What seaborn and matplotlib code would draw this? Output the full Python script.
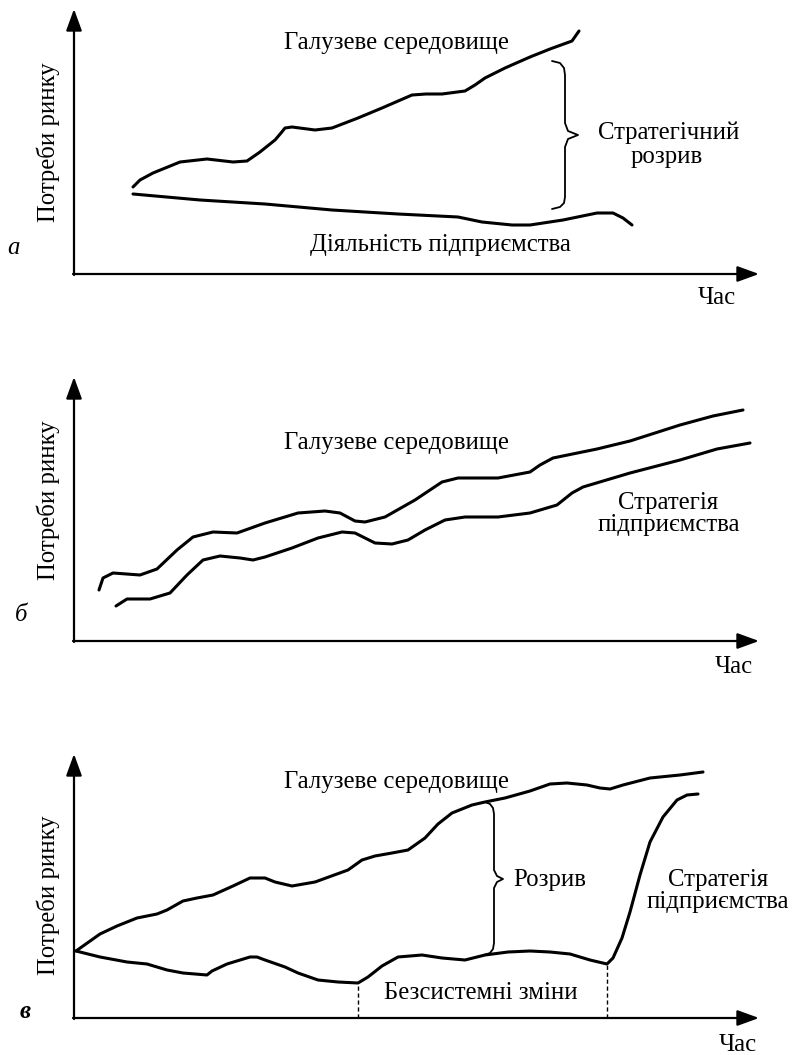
import matplotlib
matplotlib.use("Agg")
import matplotlib.pyplot as plt
import seaborn as sns

# =========================
# DATA (units relative to each panel's origin)
# =========================

# panel a
a_env_x = [59, 66, 79, 106, 133, 159, 173, 186, 201, 207, 211, 218, 241, 258, 284, 308, 338, 352, 368, 391, 401, 411, 431, 456, 476, 498, 505]
a_env_y = [87, 94, 101, 112, 115, 112, 113, 122, 134, 141, 146, 147, 144, 146, 156, 166, 179, 180, 180, 183, 189, 196, 206, 217, 225, 233, 243]
a_firm_x = [59, 126, 191, 258, 324, 384, 408, 438, 456, 489, 523, 539, 549, 558]
a_firm_y = [80, 74, 70, 64, 60, 57, 52, 49, 49, 54, 61, 61, 56, 49]
a_brace_x = [478, 486, 490, 491, 491, 494, 504, 494, 491, 491, 490, 486, 478]
a_brace_y = [213, 211, 206, 199, 151, 143, 139, 135, 127, 77, 71, 67, 65]

# panel b
b_env_x = [25, 29, 39, 66, 83, 103, 119, 139, 163, 191, 224, 251, 266, 281, 291, 311, 341, 368, 384,
           424, 456, 466, 479, 523, 556, 606, 639, 669]
b_env_y = [51, 63, 68, 66, 72, 91, 104, 109, 108, 118, 128, 130, 128, 120, 119, 124, 141, 159, 163,
           163, 169, 176, 183, 192, 200, 216, 225, 231]
b_strat_x = [42, 53, 76, 96, 113, 129, 146, 166, 179, 191, 218, 244, 268, 281, 301, 318, 334, 351, 371,
             391, 424, 456, 483, 498, 509, 556, 606, 643, 676]
b_strat_y = [35, 42, 42, 48, 66, 81, 85, 83, 81, 84, 93, 103, 109, 108, 98, 97, 101, 111, 121,
             124, 124, 128, 136, 148, 154, 168, 181, 192, 198]

# panel c
c_env_x = [2, 26, 43, 63, 83, 93, 109, 123, 139, 159, 176, 191, 201, 218, 241, 274, 288, 301, 318, 334,
           351, 364, 378, 398, 411, 431, 456, 476, 493, 513, 526, 536, 549, 576, 606, 629]
c_env_y = [67, 84, 92, 100, 104, 108, 117, 120, 123, 132, 140, 140, 136, 132, 136, 148, 158, 162, 165, 168,
           180, 194, 205, 213, 216, 220, 227, 234, 235, 233, 230, 229, 233, 240, 243, 246]
c_strat_x = [2, 26, 53, 73, 93, 109, 133, 138, 153, 176, 183, 191, 211, 224, 244, 264, 284, 294, 308, 324,
             348, 368, 391, 411, 434, 456, 476, 496, 516, 533, 539, 548, 556, 566, 576, 589, 603, 613, 624]
c_strat_y = [67, 61, 56, 54, 48, 45, 43, 47, 54, 61, 61, 58, 51, 45, 38, 36, 35, 41, 52, 61,
             63, 60, 58, 63, 66, 67, 66, 64, 58, 54, 60, 80, 106, 143, 176, 201, 218, 223, 224]
c_brace_x = [411, 416, 419, 420, 420, 423, 429, 423, 420, 420, 419, 416, 410]
c_brace_y = [216, 214, 210, 204, 148, 142, 139, 136, 130, 75, 69, 65, 63]
c_drop_x = [284, 533]
c_drop_y = [35, 54]

# panel frames: (origin x px, origin y px, band top px, band bottom px)
panels = [(74, 274, 0, 330), (74, 641, 340, 690), (74, 1018, 715, 1055)]

W, H = 794, 1055

sns.set_theme(style="white")
plt.rcParams["font.family"] = ["Liberation Serif", "DejaVu Serif"]
plt.rcParams["text.color"] = "black"

fig = plt.figure(figsize=(W / 100, H / 100), dpi=100)

axes = []
for x0, y0, top, bot in panels:
    ax = fig.add_axes([0, 1 - bot / H, 1, (bot - top) / H])
    ax.set_xlim(-x0, W - x0)
    ax.set_ylim(y0 - bot, y0 - top)
    ax.axis("off")
    axes.append(ax)

LW = 2.2
FS = 17.8


def draw_axes(ax, ytop, xtip=685):
    style = "-|>,head_length=1.1,head_width=0.4"
    ax.annotate("", xy=(0, ytop), xytext=(0, -1),
                arrowprops=dict(arrowstyle=style, color="black", lw=1.6, shrinkA=0, shrinkB=0))
    ax.annotate("", xy=(xtip, 0), xytext=(-1, 0),
                arrowprops=dict(arrowstyle=style, color="black", lw=1.6, shrinkA=0, shrinkB=0))


def curve(ax, x, y, lw=LW):
    sns.lineplot(x=x, y=y, ax=ax, color="black", lw=lw, sort=False, estimator=None,
                 solid_capstyle="round", solid_joinstyle="round")


def label(ax, x, y, s, **kw):
    ax.text(x, y, s, fontsize=FS, color="black", ha="center", va="center", **kw)


# =========================
# PANEL a
# =========================
ax = axes[0]
draw_axes(ax, 265)
curve(ax, a_env_x, a_env_y)
curve(ax, a_firm_x, a_firm_y)
curve(ax, a_brace_x, a_brace_y, lw=1.3)
label(ax, 322, 231, "Галузеве середовище")
label(ax, 595, 141, "Стратегічний")
label(ax, 593, 117, "розрив")
label(ax, 366, 29, "Діяльність підприємства")
label(ax, 643, -24, "Час")
label(ax, -61, 26, "а", style="italic")
label(ax, -26, 132, "Потреби ринку", rotation=90)

# =========================
# PANEL б
# =========================
ax = axes[1]
draw_axes(ax, 264)
curve(ax, b_env_x, b_env_y)
curve(ax, b_strat_x, b_strat_y)
label(ax, 322, 198, "Галузеве середовище")
label(ax, 594, 138, "Стратегія")
label(ax, 595, 116, "підприємства")
label(ax, 660, -26, "Час")
label(ax, -53, 26, "б", style="italic")
label(ax, -26, 141, "Потреби ринку", rotation=90)

# =========================
# PANEL в
# =========================
ax = axes[2]
draw_axes(ax, 264)
curve(ax, c_env_x, c_env_y)
curve(ax, c_strat_x, c_strat_y)
curve(ax, c_brace_x, c_brace_y, lw=1.3)
ax.vlines(c_drop_x, 0, c_drop_y, colors="black", linestyles=(0, (3, 2)), lw=1.0)
label(ax, 322, 236, "Галузеве середовище")
label(ax, 476, 138, "Розрив")
label(ax, 407, 25, "Безсистемні зміни")
label(ax, 644, 138, "Стратегія")
label(ax, 644, 116, "підприємства")
label(ax, 664, -27, "Час")
label(ax, -49, 6, "в", style="italic", weight="bold")
label(ax, -26, 123, "Потреби ринку", rotation=90)

fig.savefig("out.png", dpi=100, facecolor="white")
